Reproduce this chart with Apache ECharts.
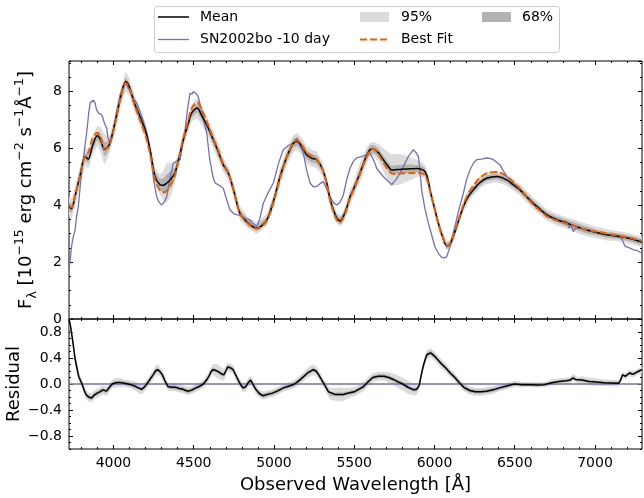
<!DOCTYPE html>
<html>
<head>
<meta charset="utf-8">
<script src="https://cdn.jsdelivr.net/npm/echarts@6/dist/echarts.min.js"></script>
<style>html,body{margin:0;padding:0;background:#fff;}#c{width:644px;height:498px;}</style>
</head>
<body>
<div id="c"></div>
<script>
// ---------------- DATA ----------------
// Mean model flux: [wavelength, flux, 68% half-width, 95% half-width]
const meanData = [
[3723,3.95,.15,.35],[3740,3.88,.15,.35],[3760,4.30,.15,.35],[3790,5.00,.15,.35],[3823,5.71,.12,.30],
[3843,5.62,.15,.35],[3870,6.10,.15,.35],[3899,6.44,.15,.35],[3920,6.30,.20,.45],[3943,5.97,.25,.55],
[3960,6.02,.20,.40],[3978,6.18,.15,.30],[4010,6.90,.15,.30],[4045,7.80,.15,.30],[4076,8.35,.15,.35],
[4100,8.15,.15,.30],[4130,7.60,.15,.30],[4165,7.12,.15,.30],[4200,6.60,.15,.30],[4228,5.95,.15,.30],
[4259,5.01,.15,.30],[4290,4.72,.20,.35],[4310,4.70,.25,.50],[4332,4.78,.30,.70],[4355,4.90,.30,.60],
[4383,5.13,.20,.35],[4410,5.70,.15,.25],[4435,6.30,.15,.25],[4465,6.85,.15,.30],[4487,7.24,.15,.30],
[4522,7.42,.15,.35],[4550,7.15,.15,.35],[4581,6.83,.15,.30],[4622,6.30,.15,.30],[4655,5.85,.15,.30],
[4684,5.42,.12,.25],[4716,5.13,.12,.25],[4750,4.50,.12,.25],[4788,3.72,.12,.25],[4840,3.37,.12,.20],
[4893,3.19,.10,.20],[4955,3.48,.10,.20],[5000,4.20,.12,.25],[5038,5.01,.15,.30],[5080,5.70,.15,.30],
[5121,6.18,.15,.30],[5145,6.24,.15,.30],[5175,6.05,.15,.30],[5204,5.77,.15,.30],[5235,5.65,.15,.30],
[5266,5.60,.15,.30],[5300,5.30,.12,.25],[5329,4.78,.12,.25],[5350,4.20,.12,.25],[5370,3.84,.12,.25],
[5391,3.55,.12,.20],[5411,3.45,.12,.20],[5432,3.60,.12,.20],[5453,3.90,.12,.25],[5474,4.30,.12,.25],
[5494,4.54,.12,.25],[5536,5.13,.15,.35],[5570,5.65,.15,.30],[5598,5.95,.15,.25],[5619,5.98,.15,.25],
[5650,5.85,.15,.30],[5681,5.60,.15,.40],[5710,5.38,.15,.50],[5733,5.24,.15,.55],[5770,5.26,.15,.55],
[5806,5.27,.15,.50],[5850,5.28,.15,.40],[5889,5.29,.12,.30],[5920,5.26,.12,.25],[5941,5.18,.12,.25],
[5960,4.90,.12,.25],[5972,4.54,.12,.25],[6000,3.90,.10,.20],[6024,3.37,.10,.20],[6050,2.90,.10,.20],
[6076,2.57,.10,.15],[6095,2.62,.10,.15],[6117,2.90,.10,.20],[6150,3.45,.10,.20],[6180,3.95,.10,.20],
[6210,4.30,.10,.20],[6242,4.54,.10,.20],[6280,4.78,.10,.20],[6325,4.95,.10,.20],[6388,5.01,.10,.20],
[6450,4.89,.10,.20],[6490,4.72,.10,.20],[6533,4.54,.10,.20],[6575,4.30,.10,.20],[6616,4.07,.10,.20],
[6660,3.85,.10,.20],[6699,3.66,.10,.20],[6760,3.50,.10,.20],[6824,3.37,.12,.20],[6890,3.24,.12,.22],
[6948,3.13,.12,.22],[7010,3.04,.10,.20],[7073,2.96,.10,.20],[7130,2.92,.10,.18],[7177,2.88,.10,.18],
[7230,2.81,.10,.18],[7293,2.70,.10,.18]
];

// Best fit model flux: [wavelength, flux]
const bestFit = [
[3723,4.00],[3740,3.92],[3760,4.30],[3790,5.00],[3823,5.75],[3843,5.85],[3870,6.35],[3899,6.55],
[3920,6.40],[3943,6.00],[3960,6.00],[3978,6.15],[4010,6.85],[4045,7.80],[4076,8.30],[4100,8.10],
[4130,7.55],[4165,7.00],[4200,6.45],[4228,5.80],[4259,4.90],[4290,4.52],[4310,4.45],[4332,4.50],
[4355,4.70],[4383,5.05],[4410,5.70],[4435,6.35],[4465,6.95],[4487,7.40],[4522,7.62],[4550,7.35],
[4581,6.95],[4622,6.35],[4655,5.90],[4684,5.45],[4716,5.15],[4750,4.50],[4788,3.70],[4840,3.35],
[4893,3.17],[4955,3.45],[5000,4.15],[5038,4.95],[5080,5.70],[5121,6.20],[5145,6.28],[5175,6.10],
[5204,5.85],[5235,5.72],[5266,5.62],[5300,5.30],[5329,4.75],[5350,4.15],[5370,3.78],[5391,3.48],
[5411,3.38],[5432,3.55],[5453,3.85],[5474,4.25],[5494,4.50],[5536,5.10],[5570,5.60],[5598,5.92],
[5619,5.98],[5650,5.80],[5681,5.50],[5710,5.25],[5733,5.12],[5770,5.10],[5806,5.12],[5850,5.13],
[5889,5.14],[5920,5.12],[5941,5.05],[5960,4.80],[5972,4.50],[6000,3.90],[6024,3.35],[6050,2.90],
[6076,2.58],[6095,2.63],[6117,2.92],[6150,3.50],[6180,4.00],[6210,4.40],[6242,4.68],[6280,4.95],
[6325,5.12],[6388,5.17],[6450,5.02],[6490,4.82],[6533,4.58],[6575,4.30],[6616,4.02],[6660,3.80],
[6699,3.62],[6760,3.47],[6824,3.35],[6890,3.24],[6948,3.14],[7010,3.07],[7073,3.00],[7130,2.95],
[7177,2.90],[7230,2.84],[7293,2.74]
];

// Observed SN2002bo -10 day spectrum: [wavelength, flux]
const sn2002bo = [
[3723,1.70],[3729,1.75],[3740,2.60],[3750,2.90],[3760,3.10],[3770,3.60],[3781,3.95],[3795,4.80],
[3812,5.60],[3825,6.20],[3833,6.54],[3845,7.20],[3855,7.60],[3864,7.65],[3875,7.70],[3885,7.60],
[3895,7.35],[3906,7.24],[3915,7.30],[3927,7.18],[3940,6.95],[3950,6.80],[3958,6.71],[3965,6.40],
[3978,6.18],[3995,6.50],[4020,7.30],[4040,7.85],[4061,8.18],[4076,8.30],[4095,8.10],[4115,7.85],
[4130,7.70],[4145,7.59],[4165,7.30],[4186,6.95],[4210,6.50],[4228,5.95],[4250,4.90],[4269,4.30],
[4285,4.10],[4301,4.01],[4315,4.10],[4332,4.30],[4350,4.90],[4373,5.48],[4395,5.55],[4415,5.60],
[4430,6.10],[4446,6.65],[4462,7.40],[4477,7.94],[4490,7.90],[4497,8.00],[4510,7.95],[4528,7.82],
[4550,7.30],[4565,6.90],[4581,6.54],[4600,5.60],[4620,5.00],[4633,4.78],[4660,4.70],[4684,4.60],
[4705,4.20],[4726,3.84],[4750,3.70],[4788,3.64],[4820,3.55],[4851,3.48],[4870,3.35],[4893,3.25],
[4910,3.50],[4934,4.07],[4960,4.40],[4996,4.78],[5030,5.50],[5058,5.95],[5090,6.10],[5121,6.18],
[5142,6.36],[5160,6.15],[5183,5.83],[5205,5.20],[5225,4.78],[5245,4.65],[5266,4.66],[5285,4.75],
[5307,4.83],[5330,4.55],[5349,4.30],[5370,4.10],[5391,4.01],[5411,4.10],[5432,4.35],[5453,4.89],
[5474,5.30],[5495,5.55],[5515,5.66],[5540,5.70],[5578,5.77],[5598,5.83],[5620,5.60],[5640,5.30],
[5660,5.15],[5681,5.01],[5710,4.85],[5733,4.72],[5760,4.90],[5785,5.13],[5810,5.40],[5837,5.71],
[5855,5.85],[5868,5.95],[5885,5.85],[5900,5.71],[5910,5.20],[5920,4.54],[5940,3.90],[5962,3.37],
[5985,2.90],[6003,2.54],[6025,2.30],[6045,2.17],[6060,2.15],[6076,2.19],[6095,2.50],[6117,3.02],
[6150,3.80],[6180,4.42],[6200,4.90],[6221,5.24],[6245,5.50],[6263,5.60],[6290,5.62],[6325,5.66],
[6345,5.65],[6367,5.60],[6390,5.50],[6408,5.42],[6430,5.20],[6450,5.01],[6490,4.80],[6533,4.54],
[6600,4.10],[6657,3.84],[6720,3.60],[6790,3.45],[6824,3.42],[6840,3.20],[6852,3.30],[6865,3.07],
[6880,3.20],[6907,3.19],[6950,3.15],[6990,3.08],[7032,3.02],[7080,2.96],[7136,2.90],[7165,2.85],
[7177,2.78],[7188,2.55],[7198,2.49],[7215,2.50],[7240,2.43],[7265,2.40],[7293,2.31]
];

// Residual: [wavelength, residual, 68% half-width, 95% half-width]
const residual = [
[3723,1.00,.04,.10],[3735,0.85,.04,.10],[3748,0.63,.04,.10],[3760,0.40,.04,.10],[3772,0.25,.04,.09],
[3783,0.12,.03,.08],[3795,0.05,.03,.07],[3806,-0.01,.03,.07],[3818,-0.10,.03,.07],[3830,-0.165,.03,.07],
[3845,-0.20,.03,.07],[3864,-0.215,.03,.07],[3880,-0.17,.03,.07],[3899,-0.14,.03,.07],[3915,-0.12,.03,.07],
[3934,-0.09,.03,.07],[3957,-0.11,.03,.07],[3975,-0.05,.03,.07],[3992,0.00,.03,.07],[4015,0.02,.03,.07],
[4038,0.025,.03,.07],[4060,0.015,.03,.06],[4084,0.005,.03,.06],[4110,-0.01,.03,.06],[4131,-0.03,.03,.07],
[4155,-0.06,.03,.08],[4177,-0.08,.03,.08],[4195,-0.04,.03,.07],[4212,0.015,.03,.07],[4230,0.08,.03,.07],
[4247,0.14,.03,.08],[4262,0.20,.03,.08],[4275,0.22,.03,.08],[4290,0.19,.03,.07],[4305,0.14,.03,.07],
[4320,0.05,.03,.07],[4340,-0.04,.03,.06],[4360,-0.05,.03,.06],[4386,-0.05,.03,.06],[4410,-0.07,.03,.06],
[4433,-0.08,.03,.06],[4450,-0.10,.03,.06],[4468,-0.11,.03,.06],[4490,-0.09,.03,.06],[4514,-0.06,.03,.06],
[4540,-0.03,.03,.06],[4560,0.00,.03,.06],[4580,0.06,.03,.07],[4595,0.12,.03,.07],[4606,0.18,.03,.07],
[4618,0.22,.03,.08],[4635,0.21,.03,.10],[4653,0.19,.03,.11],[4670,0.16,.03,.10],[4688,0.14,.03,.09],
[4700,0.20,.03,.08],[4711,0.26,.03,.07],[4728,0.25,.03,.07],[4746,0.22,.03,.07],[4765,0.12,.03,.07],
[4781,0.04,.03,.07],[4795,-0.02,.03,.07],[4809,-0.06,.03,.07],[4825,-0.04,.03,.07],[4839,0.02,.03,.07],
[4855,0.06,.03,.07],[4868,0.00,.03,.07],[4885,-0.075,.03,.07],[4910,-0.15,.03,.06],[4932,-0.18,.03,.06],
[4960,-0.16,.03,.06],[4990,-0.14,.03,.06],[5020,-0.11,.03,.06],[5059,-0.06,.03,.06],[5095,-0.03,.03,.06],
[5129,0.00,.03,.06],[5160,0.06,.03,.07],[5187,0.12,.03,.07],[5215,0.18,.03,.08],[5245,0.22,.03,.08],
[5262,0.20,.03,.08],[5279,0.14,.03,.07],[5300,0.05,.03,.07],[5326,-0.06,.03,.07],[5340,-0.12,.03,.08],
[5349,-0.15,.03,.09],[5380,-0.16,.03,.10],[5410,-0.16,.03,.11],[5430,-0.16,.03,.10],[5465,-0.14,.03,.08],
[5500,-0.12,.03,.07],[5530,-0.08,.03,.07],[5558,-0.04,.03,.07],[5585,0.03,.03,.07],[5616,0.10,.03,.07],
[5650,0.12,.03,.07],[5686,0.12,.03,.07],[5715,0.10,.03,.08],[5744,0.07,.03,.09],[5775,0.03,.03,.10],
[5802,0.00,.03,.10],[5835,-0.05,.03,.10],[5871,-0.09,.03,.09],[5890,-0.08,.03,.08],[5905,-0.02,.03,.07],
[5922,0.19,.03,.07],[5935,0.32,.03,.07],[5952,0.45,.03,.07],[5976,0.48,.03,.07],[5995,0.44,.03,.07],
[6011,0.40,.03,.07],[6040,0.32,.03,.07],[6069,0.25,.03,.07],[6098,0.17,.03,.06],[6127,0.10,.03,.06],
[6155,0.02,.03,.06],[6185,-0.055,.03,.06],[6220,-0.10,.03,.06],[6254,-0.12,.03,.06],[6290,-0.12,.03,.06],
[6324,-0.11,.03,.06],[6365,-0.09,.03,.06],[6405,-0.06,.03,.05],[6450,-0.03,.03,.05],[6498,0.00,.02,.05],
[6545,-0.01,.02,.04],[6591,-0.01,.02,.04],[6640,-0.015,.02,.04],[6684,-0.01,.02,.04],[6730,0.02,.02,.05],
[6776,0.04,.02,.05],[6820,0.05,.02,.05],[6846,0.06,.02,.05],[6860,0.09,.02,.05],[6869,0.11,.02,.05],
[6880,0.07,.02,.05],[6892,0.06,.02,.05],[6920,0.06,.02,.06],[6962,0.04,.02,.06],[7010,0.03,.02,.06],
[7055,0.02,.02,.05],[7100,0.015,.02,.05],[7147,0.01,.02,.05],[7160,0.06,.02,.05],[7171,0.14,.02,.05],
[7190,0.12,.02,.05],[7217,0.17,.02,.05],[7235,0.15,.02,.05],[7252,0.17,.02,.05],[7275,0.20,.02,.05],
[7293,0.22,.02,.05]
];

const zeroLine = [[3723,0],[7293,0]];
const fluxTicks = [0,2,4,6,8];
const residTicks = [-0.8,-0.4,0,0.4,0.8];
const waveTicks = [4000,4500,5000,5500,6000,6500,7000];

// ---------------- LAYOUT ----------------
const X_MIN = 3723, X_MAX = 7293;
const L = 69, W = 573, T1 = 61, H1 = 258, T2 = 319, H2 = 130;
const Y1_MAX = 9.07, Y2_MIN = -1, Y2_MAX = 1;
const K = W / (X_MAX - X_MIN);
const FONT = '"DejaVu Sans", sans-serif';
const C_MEAN = '#000000', C_SN = '#7570b3', C_FIT = '#e66101', C_95 = '#dcdcdc', C_68 = '#b2b2b2';

function gridAt(xmin, xmax, top, height) {
  return { left: L + (xmin - X_MIN) * K, top: top, width: (xmax - xmin) * K, height: height, containLabel: false };
}

const grids = [
  { left: L, top: T1, width: W, height: H1, show: true, borderColor: '#000', borderWidth: 1, backgroundColor: 'transparent' }, // 0 flux
  { left: L, top: T2, width: W, height: H2, show: true, borderColor: '#000', borderWidth: 1, backgroundColor: 'transparent' }, // 1 residual
  gridAt(3800, 7200, T1, H1),   // 2 minor x ticks top panel
  gridAt(waveTicks[0], waveTicks[waveTicks.length-1], T1, H1), // 3 major x ticks top panel
  gridAt(3800, 7200, T2, H2),   // 4 minor x ticks bottom panel
  gridAt(waveTicks[0], waveTicks[waveTicks.length-1], T2, H2), // 5 major x ticks bottom panel
  { left: L, width: W, top: T2 + (Y2_MAX - residTicks[residTicks.length-1]) / (Y2_MAX - Y2_MIN) * H2,
    height: (residTicks[residTicks.length-1] - residTicks[0]) / (Y2_MAX - Y2_MIN) * H2 } // 6 major y ticks residual
];

function tickAxis(opt) {
  return Object.assign({
    type: 'value', splitLine: { show: false }, axisLine: { show: false },
    axisLabel: { show: false },
    axisTick: { show: true, inside: true, length: opt.len, lineStyle: { color: '#000', width: 1 } }
  }, opt.extra || {}, { gridIndex: opt.grid, min: opt.min, max: opt.max, interval: opt.interval, position: opt.pos });
}
const lblStyle = { show: true, color: '#000', fontFamily: FONT, fontSize: 14 };

const xAxes = [
  { type: 'value', gridIndex: 0, min: X_MIN, max: X_MAX, show: false },
  { type: 'value', gridIndex: 1, min: X_MIN, max: X_MAX, show: false },
  tickAxis({ grid: 2, min: 3800, max: 7200, interval: 100, pos: 'bottom', len: 2 }),
  tickAxis({ grid: 2, min: 3800, max: 7200, interval: 100, pos: 'top', len: 2 }),
  tickAxis({ grid: 3, min: 4000, max: 7000, interval: 500, pos: 'bottom', len: 4 }),
  tickAxis({ grid: 3, min: 4000, max: 7000, interval: 500, pos: 'top', len: 4 }),
  tickAxis({ grid: 4, min: 3800, max: 7200, interval: 100, pos: 'bottom', len: 2 }),
  tickAxis({ grid: 4, min: 3800, max: 7200, interval: 100, pos: 'top', len: 2 }),
  tickAxis({ grid: 5, min: 4000, max: 7000, interval: 500, pos: 'bottom', len: 4,
    extra: { axisLabel: Object.assign({}, lblStyle, { margin: 7, formatter: v => String(v) }) } }),
  tickAxis({ grid: 5, min: 4000, max: 7000, interval: 500, pos: 'top', len: 4 }),
  { type: 'value', gridIndex: 6, min: 0, max: 1, show: false }
];

function fmtRes(v) { if (Math.abs(v) < 1e-9) return '0.0'; return v.toFixed(1).replace('-', '\u2212'); }

const yAxes = [
  tickAxis({ grid: 0, min: 0, max: Y1_MAX, interval: 0.5, pos: 'left', len: 2 }),   // 0 data
  tickAxis({ grid: 0, min: 0, max: Y1_MAX, interval: 0.5, pos: 'right', len: 2 }),
  tickAxis({ grid: 0, min: 0, max: Y1_MAX, interval: 2, pos: 'left', len: 4,
    extra: { axisLabel: Object.assign({}, lblStyle, { margin: 7, showMaxLabel: false, formatter: v => String(v) }) } }),
  tickAxis({ grid: 0, min: 0, max: Y1_MAX, interval: 2, pos: 'right', len: 4 }),
  tickAxis({ grid: 1, min: Y2_MIN, max: Y2_MAX, interval: 0.1, pos: 'left', len: 2 }), // 4 data
  tickAxis({ grid: 1, min: Y2_MIN, max: Y2_MAX, interval: 0.1, pos: 'right', len: 2 }),
  tickAxis({ grid: 6, min: -0.8, max: 0.8, interval: 0.4, pos: 'left', len: 4,
    extra: { axisLabel: Object.assign({}, lblStyle, { margin: 7, formatter: fmtRes }) } }),
  tickAxis({ grid: 6, min: -0.8, max: 0.8, interval: 0.4, pos: 'right', len: 4 }),
  { type: 'value', gridIndex: 2, min: 0, max: 1, show: false },
  { type: 'value', gridIndex: 3, min: 0, max: 1, show: false },
  { type: 'value', gridIndex: 4, min: 0, max: 1, show: false },
  { type: 'value', gridIndex: 5, min: 0, max: 1, show: false }
];
// map decoration grids to their hidden axes
xAxes[10].gridIndex = 6;

function band(name, rows, level, color, xi, yi, z) {
  const lo = rows.map(r => [r[0], r[1] - r[level]]);
  const hi = rows.map(r => [r[0], r[1] + r[level]]);
  return {
    type: 'custom', name: name, xAxisIndex: xi, yAxisIndex: yi, silent: true, clip: true, z: z,
    data: rows.map((r, i) => [r[0], lo[i][1], hi[i][1]]),
    encode: { x: 0, y: [1, 2] },
    renderItem: function (params, api) {
      if (params.dataIndex !== 0) return null;
      const up = hi.map(p => api.coord(p));
      const dn = lo.map(p => api.coord(p)).reverse();
      return { type: 'polygon', shape: { points: up.concat(dn) }, style: { fill: color, stroke: null } };
    }
  };
}

const series = [
  band('95%', meanData, 3, C_95, 0, 0, 1),
  band('68%', meanData, 2, C_68, 0, 0, 2),
  { type: 'line', name: 'SN2002bo -10 day', xAxisIndex: 0, yAxisIndex: 0, data: sn2002bo, showSymbol: false, symbol: 'none',
    lineStyle: { color: C_SN, width: 1.3 }, z: 3, silent: true, clip: true },
  { type: 'line', name: 'Mean', xAxisIndex: 0, yAxisIndex: 0, data: meanData.map(r => [r[0], r[1]]), symbol: 'none', smooth: 0.3,
    lineStyle: { color: C_MEAN, width: 1.5 }, z: 4, silent: true },
  { type: 'line', name: 'Best Fit', xAxisIndex: 0, yAxisIndex: 0, data: bestFit, symbol: 'none', smooth: 0.3,
    lineStyle: { color: C_FIT, width: 2, type: [7, 3] }, z: 5, silent: true },
  band('95% residual', residual, 3, C_95, 1, 4, 1),
  band('68% residual', residual, 2, C_68, 1, 4, 2),
  { type: 'line', name: 'zero', xAxisIndex: 1, yAxisIndex: 4, data: zeroLine, symbol: 'none',
    lineStyle: { color: C_SN, width: 1.3 }, z: 3, silent: true },
  { type: 'line', name: 'Residual', xAxisIndex: 1, yAxisIndex: 4, data: residual.map(r => [r[0], r[1]]), symbol: 'none',
    lineStyle: { color: '#000', width: 1.5 }, z: 4, silent: true, clip: true }
];

// ---------------- LEGEND & TITLES (graphic) ----------------
const LG = { x: 154.5, y: 6.5, w: 405, h: 46, row1: 17, row2: 39.5 };
const lf = '14px ' + FONT;
const graphic = [
  { type: 'rect', shape: { x: LG.x, y: LG.y, width: LG.w, height: LG.h, r: 3 }, style: { fill: 'rgba(255,255,255,0.85)', stroke: '#cccccc', lineWidth: 1 }, z: 100 },
  { type: 'line', shape: { x1: 158, y1: LG.row1, x2: 189, y2: LG.row1 }, style: { stroke: C_MEAN, lineWidth: 1.5 }, z: 101 },
  { type: 'text', x: 200, y: LG.row1, style: { text: 'Mean', font: lf, fill: '#000', verticalAlign: 'middle' }, z: 101 },
  { type: 'line', shape: { x1: 158, y1: LG.row2, x2: 189, y2: LG.row2 }, style: { stroke: C_SN, lineWidth: 1.3 }, z: 101 },
  { type: 'text', x: 200, y: LG.row2, style: { text: 'SN2002bo -10 day', font: lf, fill: '#000', verticalAlign: 'middle' }, z: 101 },
  { type: 'rect', shape: { x: 360, y: LG.row1 - 5, width: 29, height: 10 }, style: { fill: C_95 }, z: 101 },
  { type: 'text', x: 401, y: LG.row1, style: { text: '95%', font: lf, fill: '#000', verticalAlign: 'middle' }, z: 101 },
  { type: 'line', shape: { x1: 360, y1: LG.row2, x2: 390, y2: LG.row2 }, style: { stroke: C_FIT, lineWidth: 2, lineDash: [7, 3] }, z: 101 },
  { type: 'text', x: 401, y: LG.row2, style: { text: 'Best Fit', font: lf, fill: '#000', verticalAlign: 'middle' }, z: 101 },
  { type: 'rect', shape: { x: 482, y: LG.row1 - 5, width: 29, height: 10 }, style: { fill: C_68 }, z: 101 },
  { type: 'text', x: 522, y: LG.row1, style: { text: '68%', font: lf, fill: '#000', verticalAlign: 'middle' }, z: 101 },
  { type: 'text', x: L + W / 2, y: 485, style: { text: 'Observed Wavelength [\u00c5]', font: '18px ' + FONT, fill: '#000', align: 'center', verticalAlign: 'middle' } },
  { type: 'text', x: 14.5, y: T2 + H2 / 2, rotation: Math.PI / 2, style: { text: 'Residual', font: '18px ' + FONT, fill: '#000', align: 'center', verticalAlign: 'middle' } },
  { type: 'text', x: 26, y: T1 + H1 / 2, rotation: Math.PI / 2, style: {
      text: '{m|F}{sub|\u03bb}{m| [10}{sup|\u221215}{m| erg cm}{sup|\u22122}{m| s}{sup|\u22121}{m|\u00c5}{sup|\u22121}{m|]}',
      fill: '#000', align: 'center', verticalAlign: 'middle',
      rich: {
        m: { fontFamily: FONT, fontSize: 18, lineHeight: 26, verticalAlign: 'middle', fill: '#000' },
        sup: { fontFamily: FONT, fontSize: 12.5, lineHeight: 14, verticalAlign: 'top', fill: '#000' },
        sub: { fontFamily: FONT, fontSize: 12.5, lineHeight: 14, verticalAlign: 'bottom', fill: '#000' }
      } } }
];

const chart = echarts.init(document.getElementById('c'), null, { renderer: 'canvas' });
chart.setOption({
  animation: false,
  backgroundColor: '#ffffff',
  grid: grids,
  xAxis: xAxes,
  yAxis: yAxes,
  series: series,
  graphic: graphic
});
</script>
</body>
</html>
